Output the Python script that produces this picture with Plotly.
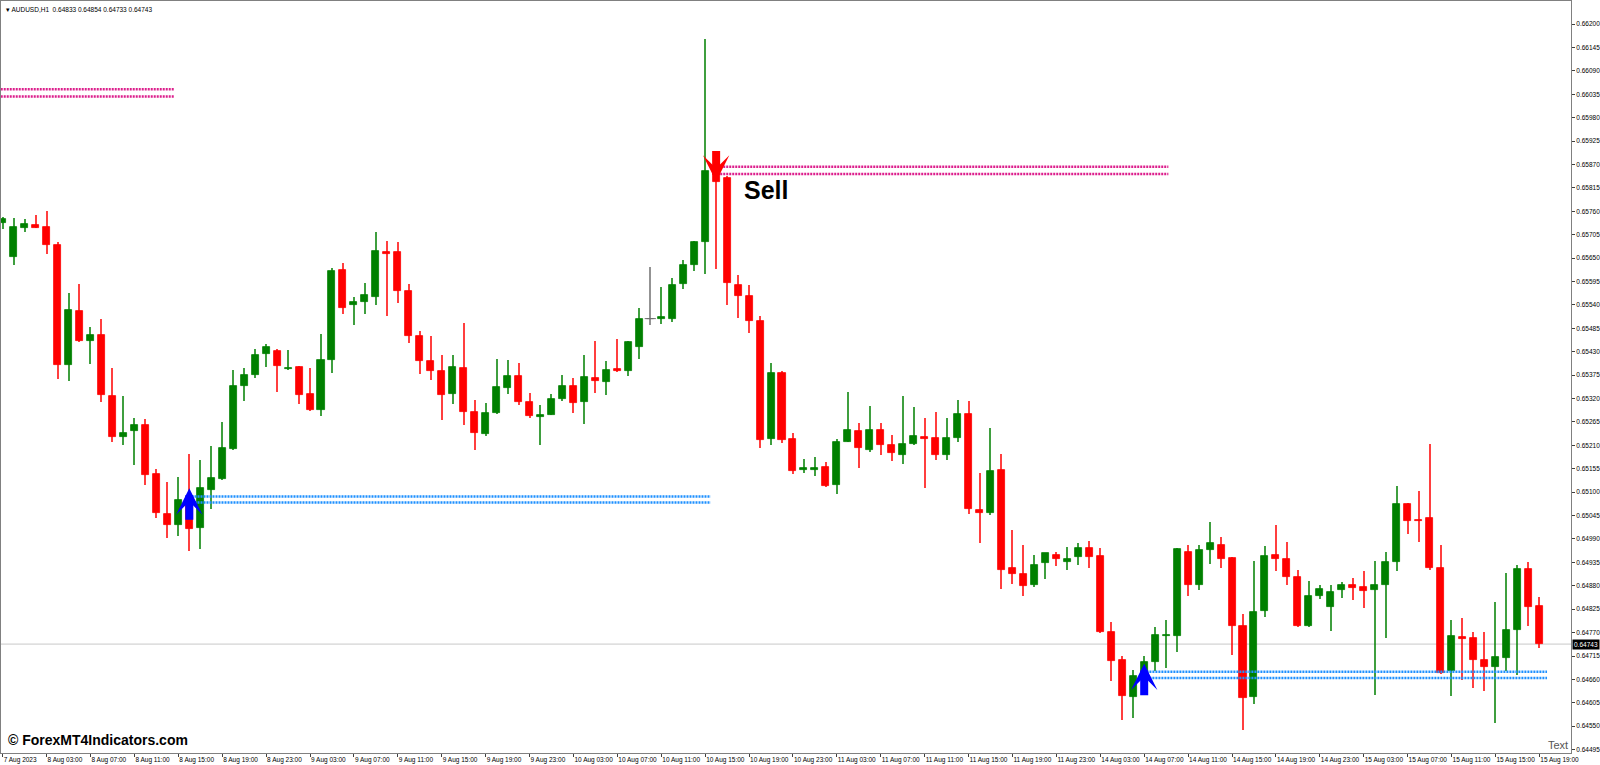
import plotly.graph_objects as go

# AUDUSD H1 candles, 7 Aug 2023 23:00 .. 15 Aug 2023 19:00
open_ = [0.65732, 0.65653, 0.65721, 0.65728, 0.65724, 0.65681, 0.65398, 0.65527, 0.65455, 0.65470,
         0.65327, 0.65229, 0.65243, 0.65258, 0.65143, 0.65049, 0.65023, 0.65070, 0.65015, 0.65106,
         0.65131, 0.65201, 0.65349, 0.65376, 0.65425, 0.65432, 0.65389, 0.65395, 0.65331, 0.65294,
         0.65411, 0.65622, 0.65540, 0.65547, 0.65558, 0.65665, 0.65664, 0.65572, 0.65468, 0.65409,
         0.65385, 0.65331, 0.65391, 0.65288, 0.65236, 0.65287, 0.65346, 0.65374, 0.65312, 0.65276,
         0.65282, 0.65319, 0.65349, 0.65313, 0.65368, 0.65360, 0.65390, 0.65384, 0.65442, 0.65508,
         0.65506, 0.65508, 0.65590, 0.65633, 0.65688, 0.65850, 0.65839, 0.65587, 0.65562, 0.65502,
         0.65225, 0.65381, 0.65225, 0.65152, 0.65153, 0.65159, 0.65118, 0.65218, 0.65243, 0.65200,
         0.65246, 0.65211, 0.65188, 0.65213, 0.65230, 0.65227, 0.65187, 0.65228, 0.65284, 0.65059,
         0.65050, 0.65151, 0.64922, 0.64907, 0.64882, 0.64933, 0.64953, 0.64935, 0.64947, 0.64968,
         0.64949, 0.64772, 0.64705, 0.64618, 0.64668, 0.64702, 0.64763, 0.64763, 0.64960, 0.64882,
         0.64963, 0.64976, 0.64946, 0.64786, 0.64619, 0.64820, 0.64953, 0.64943, 0.64901, 0.64785,
         0.64857, 0.64831, 0.64871, 0.64882, 0.64878, 0.64870, 0.64881, 0.64935, 0.65073, 0.65034,
         0.65039, 0.64922, 0.64679, 0.64760, 0.64758, 0.64706, 0.64689, 0.64711, 0.64777, 0.64919,
         0.64833]
high = [0.65748, 0.65744, 0.65742, 0.65752, 0.65761, 0.65688, 0.65568, 0.65589, 0.65488, 0.65507,
        0.65391, 0.65327, 0.65275, 0.65272, 0.65155, 0.65125, 0.65135, 0.65189, 0.65176, 0.65209,
        0.65266, 0.65388, 0.65393, 0.65437, 0.65448, 0.65437, 0.65435, 0.65397, 0.65393, 0.65471,
        0.65628, 0.65638, 0.65559, 0.65591, 0.65712, 0.65691, 0.65688, 0.65589, 0.65479, 0.65468,
        0.65423, 0.65423, 0.65498, 0.65317, 0.65309, 0.65414, 0.65411, 0.65404, 0.65333, 0.65305,
        0.65331, 0.65376, 0.65368, 0.65423, 0.65456, 0.65409, 0.65459, 0.65456, 0.65533, 0.65630,
        0.65583, 0.65603, 0.65646, 0.65691, 0.66165, 0.65869, 0.65843, 0.65611, 0.65587, 0.65514,
        0.65404, 0.65384, 0.65239, 0.65178, 0.65182, 0.65171, 0.65225, 0.65335, 0.65262, 0.65303,
        0.65262, 0.65234, 0.65325, 0.65300, 0.65275, 0.65288, 0.65275, 0.65317, 0.65315, 0.65146,
        0.65252, 0.65190, 0.65010, 0.64977, 0.64953, 0.64957, 0.64959, 0.64971, 0.64980, 0.64985,
        0.64968, 0.64795, 0.64716, 0.64683, 0.64714, 0.64784, 0.64799, 0.64968, 0.64976, 0.64975,
        0.65030, 0.64995, 0.64948, 0.64814, 0.64939, 0.64974, 0.65023, 0.64983, 0.64918, 0.64892,
        0.64882, 0.64882, 0.64890, 0.64898, 0.64915, 0.64939, 0.64960, 0.65115, 0.65074, 0.65103,
        0.65213, 0.64976, 0.64799, 0.64805, 0.64771, 0.64771, 0.64843, 0.64911, 0.64929, 0.64937,
        0.64854]
low = [0.65719, 0.65634, 0.65711, 0.65720, 0.65661, 0.65366, 0.65362, 0.65453, 0.65402, 0.65313,
       0.65218, 0.65211, 0.65163, 0.65117, 0.65040, 0.64992, 0.64998, 0.64962, 0.64967, 0.65060,
       0.65128, 0.65199, 0.65315, 0.65368, 0.65395, 0.65336, 0.65388, 0.65308, 0.65290, 0.65280,
       0.65381, 0.65519, 0.65493, 0.65519, 0.65539, 0.65515, 0.65544, 0.65450, 0.65378, 0.65364,
       0.65269, 0.65308, 0.65258, 0.65199, 0.65231, 0.65284, 0.65331, 0.65304, 0.65274, 0.65210,
       0.65281, 0.65315, 0.65287, 0.65261, 0.65334, 0.65329, 0.65382, 0.65373, 0.65414, 0.65494,
       0.65495, 0.65500, 0.65578, 0.65621, 0.65612, 0.65624, 0.65539, 0.65509, 0.65474, 0.65204,
       0.65211, 0.65215, 0.65143, 0.65144, 0.65138, 0.65113, 0.65095, 0.65217, 0.65158, 0.65195,
       0.65188, 0.65174, 0.65166, 0.65210, 0.65111, 0.65176, 0.65176, 0.65217, 0.65048, 0.64980,
       0.65047, 0.64872, 0.64884, 0.64857, 0.64878, 0.64897, 0.64926, 0.64916, 0.64928, 0.64922,
       0.64770, 0.64657, 0.64565, 0.64570, 0.64652, 0.64680, 0.64687, 0.64724, 0.64857, 0.64869,
       0.64932, 0.64923, 0.64718, 0.64542, 0.64603, 0.64806, 0.64914, 0.64882, 0.64783, 0.64784,
       0.64849, 0.64774, 0.64851, 0.64847, 0.64827, 0.64624, 0.64757, 0.64914, 0.65001, 0.64984,
       0.64918, 0.64672, 0.64620, 0.64659, 0.64640, 0.64632, 0.64557, 0.64679, 0.64671, 0.64786,
       0.64733]
close = [0.65742, 0.65724, 0.65730, 0.65721, 0.65681, 0.65400, 0.65529, 0.65456, 0.65470, 0.65329,
         0.65229, 0.65239, 0.65258, 0.65141, 0.65050, 0.65023, 0.65082, 0.65013, 0.65109, 0.65133,
         0.65204, 0.65350, 0.65376, 0.65423, 0.65442, 0.65397, 0.65393, 0.65329, 0.65294, 0.65411,
         0.65620, 0.65534, 0.65546, 0.65563, 0.65666, 0.65661, 0.65572, 0.65468, 0.65409, 0.65384,
         0.65329, 0.65395, 0.65289, 0.65239, 0.65285, 0.65348, 0.65372, 0.65312, 0.65278, 0.65282,
         0.65319, 0.65349, 0.65309, 0.65370, 0.65362, 0.65388, 0.65384, 0.65454, 0.65508, 0.65508,
         0.65512, 0.65587, 0.65633, 0.65687, 0.65855, 0.65829, 0.65591, 0.65562, 0.65503, 0.65223,
         0.65380, 0.65223, 0.65150, 0.65157, 0.65157, 0.65115, 0.65218, 0.65246, 0.65204, 0.65246,
         0.65210, 0.65192, 0.65213, 0.65232, 0.65225, 0.65188, 0.65227, 0.65283, 0.65060, 0.65051,
         0.65149, 0.64918, 0.64908, 0.64880, 0.64929, 0.64956, 0.64942, 0.64943, 0.64968, 0.64948,
         0.64772, 0.64704, 0.64620, 0.64668, 0.64701, 0.64765, 0.64765, 0.64966, 0.64881, 0.64964,
         0.64980, 0.64944, 0.64786, 0.64616, 0.64818, 0.64951, 0.64943, 0.64900, 0.64785, 0.64857,
         0.64873, 0.64866, 0.64883, 0.64876, 0.64867, 0.64883, 0.64936, 0.65072, 0.65033, 0.65032,
         0.64923, 0.64675, 0.64761, 0.64756, 0.64705, 0.64688, 0.64712, 0.64777, 0.64919, 0.64831,
         0.64743]

# time axis labels, one every 4 bars
time_labels = ["7 Aug 2023", "8 Aug 03:00", "8 Aug 07:00", "8 Aug 11:00", "8 Aug 15:00", "8 Aug 19:00",
               "8 Aug 23:00", "9 Aug 03:00", "9 Aug 07:00", "9 Aug 11:00", "9 Aug 15:00", "9 Aug 19:00",
               "9 Aug 23:00", "10 Aug 03:00", "10 Aug 07:00", "10 Aug 11:00", "10 Aug 15:00", "10 Aug 19:00",
               "10 Aug 23:00", "11 Aug 03:00", "11 Aug 07:00", "11 Aug 11:00", "11 Aug 15:00", "11 Aug 19:00",
               "11 Aug 23:00", "14 Aug 03:00", "14 Aug 07:00", "14 Aug 11:00", "14 Aug 15:00", "14 Aug 19:00",
               "14 Aug 23:00", "15 Aug 03:00", "15 Aug 07:00", "15 Aug 11:00", "15 Aug 15:00", "15 Aug 19:00"]

price_ticks = [0.64495, 0.64550, 0.64605, 0.64660, 0.64715, 0.64770, 0.64825, 0.64880, 0.64935, 0.64990,
               0.65045, 0.65100, 0.65155, 0.65210, 0.65265, 0.65320, 0.65375, 0.65430, 0.65485, 0.65540,
               0.65595, 0.65650, 0.65705, 0.65760, 0.65815, 0.65870, 0.65925, 0.65980, 0.66035, 0.66090,
               0.66145, 0.66200]

# indicator signals (bar index, price of arrow tip)
buy_bars = [17, 104]
buy_prices = [0.65109, 0.64697]
sell_bars = [65]
sell_prices = [0.65830]

# supply / demand zones drawn by the indicator
zone_kind = ["supply", "demand", "supply", "demand"]
zone_start = [-1, 17.2, 65.1, 104.2]
zone_end = [15.6, 64.5, 106.2, 140.7]
zone_top = [0.66047, 0.65090, 0.65865, 0.64678]
zone_bottom = [0.66030, 0.65076, 0.65848, 0.64663]

BULL = "#008000"
BEAR = "#ff0000"
DOJI = "#707070"
ZONE_COLORS = {"supply": "#dc1e8c", "demand": "#1e90ff"}
FONT = "Liberation Sans"

n = len(close)
bars = list(range(n))
colors = [BULL if c > o else BEAR if c < o else DOJI for o, c in zip(open_, close)]

fig = go.Figure()

# current price line (behind everything)
fig.add_hline(y=close[-1], line=dict(color="#c8c8c8", width=1), layer="below")

# wicks
fig.add_trace(go.Bar(
    x=bars, base=low, y=[h - l for h, l in zip(high, low)],
    width=0.1, marker=dict(color=colors, line=dict(width=0)),
    opacity=0.75, hoverinfo="skip", showlegend=False))

# bodies
fig.add_trace(go.Bar(
    x=bars, base=[min(o, c) for o, c in zip(open_, close)],
    y=[abs(c - o) for o, c in zip(open_, close)],
    width=0.64, marker=dict(color=colors, line=dict(color=colors, width=0.8)),
    hoverinfo="skip", showlegend=False))

# doji bars: a flat line instead of a body
doji = [i for i in bars if open_[i] == close[i]]
fig.add_trace(go.Scatter(
    x=doji, y=[close[i] for i in doji], mode="markers",
    marker=dict(symbol="line-ew", size=8, line=dict(color=DOJI, width=1)),
    hoverinfo="skip", showlegend=False))

# zones: two wavy-looking lines each
for kind, x0, x1, top, bot in zip(zone_kind, zone_start, zone_end, zone_top, zone_bottom):
    for lvl in (top, bot):
        fig.add_trace(go.Scatter(
            x=[x0, x1], y=[lvl, lvl], mode="lines",
            line=dict(color=ZONE_COLORS[kind], width=2.5, dash="2px,1px"),
            hoverinfo="skip", showlegend=False))

# arrows
for b, p in zip(buy_bars, buy_prices):
    fig.add_annotation(x=b, y=p, ax=0, ay=33, text="", showarrow=True,
                       arrowhead=3, arrowsize=0.55, arrowwidth=8, arrowcolor="#0000ff")
for b, p in zip(sell_bars, sell_prices):
    fig.add_annotation(x=b, y=p, ax=0, ay=-32, text="", showarrow=True,
                       arrowhead=3, arrowsize=0.55, arrowwidth=8, arrowcolor="#ff0000")
    fig.add_annotation(x=b, y=p, text="<b>Sell</b>", showarrow=False,
                       xanchor="left", yanchor="middle", xshift=26, yshift=-8,
                       font=dict(family=FONT, size=25, color="black"))

# header, watermark, current price tag, corner text
fig.add_annotation(xref="paper", yref="paper", x=0, y=1, xanchor="left", yanchor="top",
                   xshift=3, yshift=-3, showarrow=False,
                   text="▾ AUDUSD,H1  %.5f %.5f %.5f %.5f" % (open_[-1], high[-1], low[-1], close[-1]),
                   font=dict(family=FONT, size=6.5, color="black"))
fig.add_annotation(xref="paper", yref="paper", x=0, y=0, xanchor="left", yanchor="bottom",
                   xshift=5, yshift=3, showarrow=False,
                   text="<b>© ForexMT4Indicators.com</b>",
                   font=dict(family=FONT, size=14, color="black"))
fig.add_annotation(xref="paper", yref="y", x=1, y=close[-1], xanchor="left", yanchor="middle",
                   xshift=1, showarrow=False, text="%.5f" % close[-1], bgcolor="black",
                   borderpad=1, font=dict(family=FONT, size=6.5, color="white"))
fig.add_annotation(xref="paper", yref="paper", x=1, y=0, xanchor="right", yanchor="bottom",
                   xshift=-1, yshift=0, showarrow=False, text="Text",
                   font=dict(family=FONT, size=11, color="#555555"))

fig.update_layout(
    width=1600, height=765,
    margin=dict(l=1, r=29, t=1, b=12, autoexpand=False),
    paper_bgcolor="white", plot_bgcolor="white",
    barmode="overlay", bargap=0,
    hovermode=False, dragmode=False,
    font=dict(family=FONT, size=6.5, color="black"),
)
fig.update_xaxes(
    range=[-0.155, 142.885], showgrid=False, zeroline=False, automargin=False,
    showline=True, mirror=True, linecolor="#808080", linewidth=1,
    tickvals=bars[::4], ticktext=time_labels, tickangle=0,
    ticks="outside", ticklen=3, tickcolor="#404040",
    ticklabelposition="outside right", tickfont=dict(size=6.5),
)
fig.update_yaxes(
    range=[0.64487, 0.662545], side="right", showgrid=False, zeroline=False, automargin=False,
    showline=True, mirror=True, linecolor="#808080", linewidth=1,
    tickvals=price_ticks, ticktext=["%.5f" % t for t in price_ticks],
    ticks="outside", ticklen=3, tickcolor="#404040", tickfont=dict(size=6.5),
)

# page without body margin so the 1600x765 figure fills the window exactly
fig.write_html("out.html", config={"displayModeBar": False},
               post_script="document.body.style.margin='0';document.body.style.overflow='hidden';")
